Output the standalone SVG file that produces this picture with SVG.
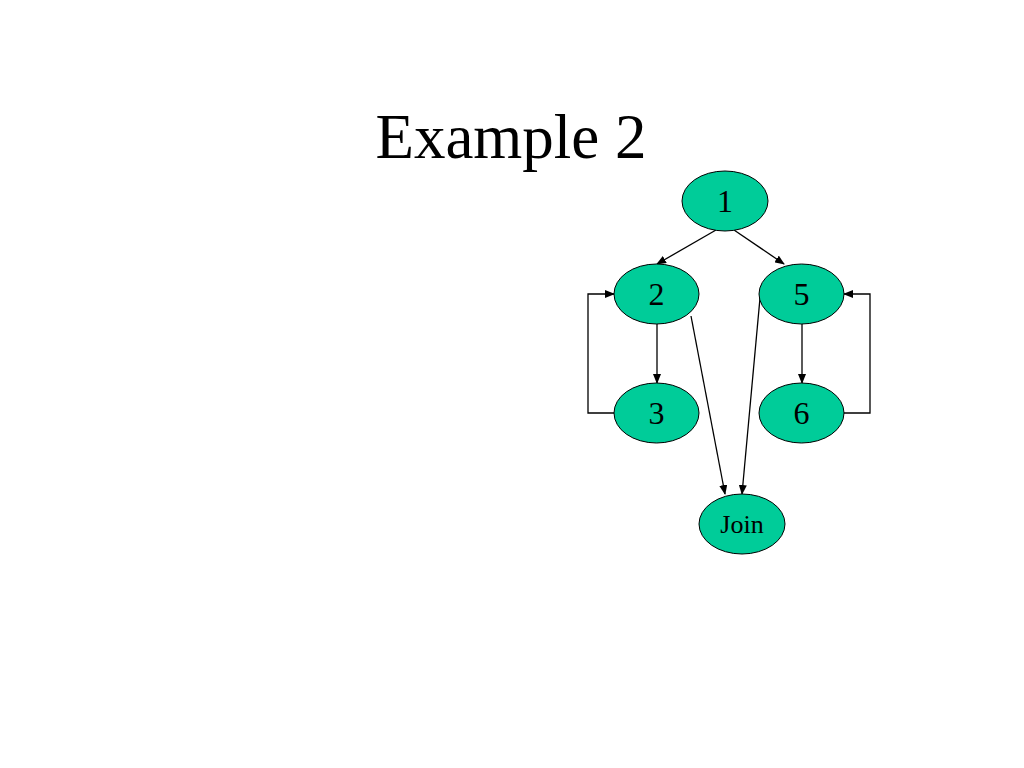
<svg xmlns="http://www.w3.org/2000/svg" width="1024" height="768" viewBox="0 0 1024 768">
<defs>
<marker id="ah" markerWidth="10" markerHeight="8" refX="9" refY="4" orient="auto" markerUnits="userSpaceOnUse">
<path d="M0,0 L10,4 L0,8 Z" fill="#000"/>
</marker>
<style>
.n{fill:#00CC99;stroke:#000;stroke-width:1}
.t{font-family:"Liberation Serif","Times New Roman",serif;fill:#000;text-anchor:middle}
.e{fill:none;stroke:#000;stroke-width:1.3;marker-end:url(#ah)}
</style>
</defs>
<rect width="1024" height="768" fill="#fff"/>
<text class="t" x="511" y="158" font-size="63">Example 2</text>
<g id="connectors">
<line class="e" x1="716" y1="230" x2="657" y2="264"/>
<line class="e" x1="734" y1="230" x2="784" y2="264"/>
<line class="e" x1="657" y1="324" x2="657" y2="383"/>
<line class="e" x1="802" y1="324" x2="802" y2="383"/>
<polyline class="e" points="614,413 588,413 588,294 614,294"/>
<polyline class="e" points="844,413 870,413 870,294 844,294"/>
<line class="e" x1="691" y1="316" x2="725" y2="494"/>
<line class="e" x1="760" y1="298" x2="742" y2="494"/>
</g>
<g id="n1"><ellipse class="n" cx="725" cy="201" rx="43" ry="30"/><text class="t" x="725" y="212" font-size="32">1</text></g>
<g id="n2"><ellipse class="n" cx="656.5" cy="294" rx="42.5" ry="30"/><text class="t" x="656.5" y="305" font-size="32">2</text></g>
<g id="n5"><ellipse class="n" cx="801.5" cy="294" rx="42.5" ry="30"/><text class="t" x="801.5" y="305" font-size="32">5</text></g>
<g id="n3"><ellipse class="n" cx="656.5" cy="413" rx="42.5" ry="30"/><text class="t" x="656.5" y="424" font-size="32">3</text></g>
<g id="n6"><ellipse class="n" cx="801.5" cy="413" rx="42.5" ry="30"/><text class="t" x="801.5" y="424" font-size="32">6</text></g>
<g id="join"><ellipse class="n" cx="742" cy="524" rx="43" ry="30"/><text class="t" x="742" y="533" font-size="26">Join</text></g>
</svg>
